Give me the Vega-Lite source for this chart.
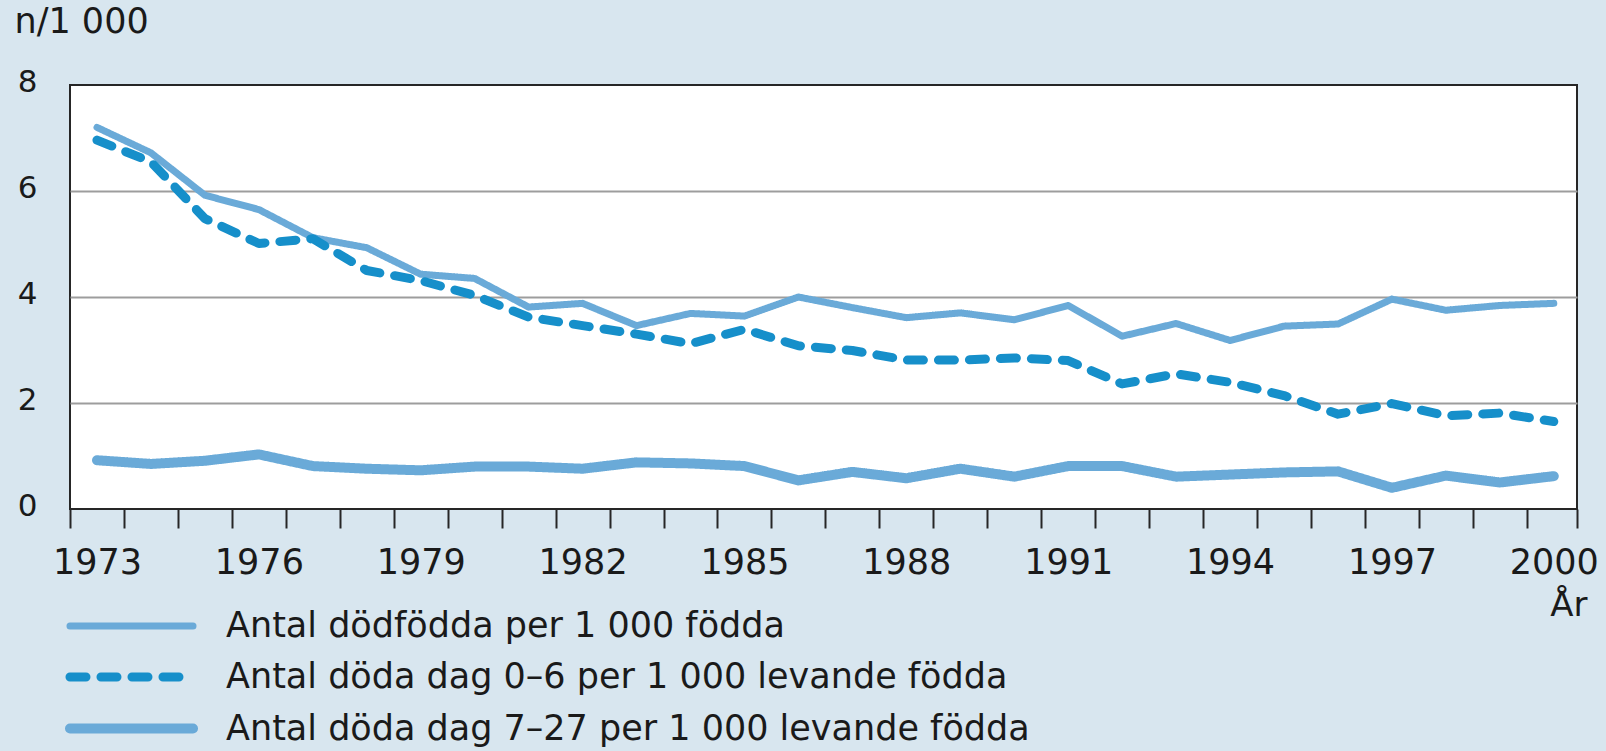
{
  "$schema": "https://vega.github.io/schema/vega-lite/v6.json",
  "width": 1507,
  "height": 424,
  "autosize": {"type": "none"},
  "padding": {"left": 70, "top": 85, "right": 29, "bottom": 242},
  "background": "#d8e6ef",
  "config": {
    "font": "DejaVu Sans",
    "view": {"fill": "white", "stroke": "#262626", "strokeWidth": 2}
  },
  "data": {
    "values": [
      {"year": 1973, "series": "Antal dödfödda per 1 000 födda", "value": 7.2},
      {"year": 1974, "series": "Antal dödfödda per 1 000 födda", "value": 6.72},
      {"year": 1975, "series": "Antal dödfödda per 1 000 födda", "value": 5.92},
      {"year": 1976, "series": "Antal dödfödda per 1 000 födda", "value": 5.65},
      {"year": 1977, "series": "Antal dödfödda per 1 000 födda", "value": 5.12},
      {"year": 1978, "series": "Antal dödfödda per 1 000 födda", "value": 4.93},
      {"year": 1979, "series": "Antal dödfödda per 1 000 födda", "value": 4.43},
      {"year": 1980, "series": "Antal dödfödda per 1 000 födda", "value": 4.35},
      {"year": 1981, "series": "Antal dödfödda per 1 000 födda", "value": 3.81},
      {"year": 1982, "series": "Antal dödfödda per 1 000 födda", "value": 3.88},
      {"year": 1983, "series": "Antal dödfödda per 1 000 födda", "value": 3.46},
      {"year": 1984, "series": "Antal dödfödda per 1 000 födda", "value": 3.69},
      {"year": 1985, "series": "Antal dödfödda per 1 000 födda", "value": 3.64},
      {"year": 1986, "series": "Antal dödfödda per 1 000 födda", "value": 4.0},
      {"year": 1987, "series": "Antal dödfödda per 1 000 födda", "value": 3.8},
      {"year": 1988, "series": "Antal dödfödda per 1 000 födda", "value": 3.61},
      {"year": 1989, "series": "Antal dödfödda per 1 000 födda", "value": 3.7},
      {"year": 1990, "series": "Antal dödfödda per 1 000 födda", "value": 3.57},
      {"year": 1991, "series": "Antal dödfödda per 1 000 födda", "value": 3.84},
      {"year": 1992, "series": "Antal dödfödda per 1 000 födda", "value": 3.26},
      {"year": 1993, "series": "Antal dödfödda per 1 000 födda", "value": 3.5},
      {"year": 1994, "series": "Antal dödfödda per 1 000 födda", "value": 3.18},
      {"year": 1995, "series": "Antal dödfödda per 1 000 födda", "value": 3.45},
      {"year": 1996, "series": "Antal dödfödda per 1 000 födda", "value": 3.49},
      {"year": 1997, "series": "Antal dödfödda per 1 000 födda", "value": 3.96},
      {"year": 1998, "series": "Antal dödfödda per 1 000 födda", "value": 3.75},
      {"year": 1999, "series": "Antal dödfödda per 1 000 födda", "value": 3.84},
      {"year": 2000, "series": "Antal dödfödda per 1 000 födda", "value": 3.88},
      {"year": 1973, "series": "Antal döda dag 0–6 per 1 000 levande födda", "value": 6.96},
      {"year": 1974, "series": "Antal döda dag 0–6 per 1 000 levande födda", "value": 6.55},
      {"year": 1975, "series": "Antal döda dag 0–6 per 1 000 levande födda", "value": 5.48},
      {"year": 1976, "series": "Antal döda dag 0–6 per 1 000 levande födda", "value": 5.01},
      {"year": 1977, "series": "Antal döda dag 0–6 per 1 000 levande födda", "value": 5.1},
      {"year": 1978, "series": "Antal döda dag 0–6 per 1 000 levande födda", "value": 4.5},
      {"year": 1979, "series": "Antal döda dag 0–6 per 1 000 levande födda", "value": 4.31},
      {"year": 1980, "series": "Antal döda dag 0–6 per 1 000 levande födda", "value": 4.03},
      {"year": 1981, "series": "Antal döda dag 0–6 per 1 000 levande födda", "value": 3.62},
      {"year": 1982, "series": "Antal döda dag 0–6 per 1 000 levande födda", "value": 3.46},
      {"year": 1983, "series": "Antal döda dag 0–6 per 1 000 levande födda", "value": 3.3},
      {"year": 1984, "series": "Antal döda dag 0–6 per 1 000 levande födda", "value": 3.12},
      {"year": 1985, "series": "Antal döda dag 0–6 per 1 000 levande födda", "value": 3.39},
      {"year": 1986, "series": "Antal döda dag 0–6 per 1 000 levande födda", "value": 3.08},
      {"year": 1987, "series": "Antal döda dag 0–6 per 1 000 levande födda", "value": 2.99},
      {"year": 1988, "series": "Antal döda dag 0–6 per 1 000 levande födda", "value": 2.81},
      {"year": 1989, "series": "Antal döda dag 0–6 per 1 000 levande födda", "value": 2.81},
      {"year": 1990, "series": "Antal döda dag 0–6 per 1 000 levande födda", "value": 2.85},
      {"year": 1991, "series": "Antal döda dag 0–6 per 1 000 levande födda", "value": 2.8},
      {"year": 1992, "series": "Antal döda dag 0–6 per 1 000 levande födda", "value": 2.36},
      {"year": 1993, "series": "Antal döda dag 0–6 per 1 000 levande födda", "value": 2.55},
      {"year": 1994, "series": "Antal döda dag 0–6 per 1 000 levande födda", "value": 2.39},
      {"year": 1995, "series": "Antal döda dag 0–6 per 1 000 levande födda", "value": 2.14},
      {"year": 1996, "series": "Antal döda dag 0–6 per 1 000 levande födda", "value": 1.79},
      {"year": 1997, "series": "Antal döda dag 0–6 per 1 000 levande födda", "value": 1.99},
      {"year": 1998, "series": "Antal döda dag 0–6 per 1 000 levande födda", "value": 1.76},
      {"year": 1999, "series": "Antal döda dag 0–6 per 1 000 levande födda", "value": 1.81},
      {"year": 2000, "series": "Antal döda dag 0–6 per 1 000 levande födda", "value": 1.65},
      {"year": 1973, "series": "Antal döda dag 7–27 per 1 000 levande födda", "value": 0.92},
      {"year": 1974, "series": "Antal döda dag 7–27 per 1 000 levande födda", "value": 0.85},
      {"year": 1975, "series": "Antal döda dag 7–27 per 1 000 levande födda", "value": 0.91},
      {"year": 1976, "series": "Antal döda dag 7–27 per 1 000 levande födda", "value": 1.03},
      {"year": 1977, "series": "Antal döda dag 7–27 per 1 000 levande födda", "value": 0.81},
      {"year": 1978, "series": "Antal döda dag 7–27 per 1 000 levande födda", "value": 0.76},
      {"year": 1979, "series": "Antal döda dag 7–27 per 1 000 levande födda", "value": 0.73},
      {"year": 1980, "series": "Antal döda dag 7–27 per 1 000 levande födda", "value": 0.8},
      {"year": 1981, "series": "Antal döda dag 7–27 per 1 000 levande födda", "value": 0.8},
      {"year": 1982, "series": "Antal döda dag 7–27 per 1 000 levande födda", "value": 0.76},
      {"year": 1983, "series": "Antal döda dag 7–27 per 1 000 levande födda", "value": 0.88},
      {"year": 1984, "series": "Antal döda dag 7–27 per 1 000 levande födda", "value": 0.86},
      {"year": 1985, "series": "Antal döda dag 7–27 per 1 000 levande födda", "value": 0.81},
      {"year": 1986, "series": "Antal döda dag 7–27 per 1 000 levande födda", "value": 0.54},
      {"year": 1987, "series": "Antal döda dag 7–27 per 1 000 levande födda", "value": 0.7},
      {"year": 1988, "series": "Antal döda dag 7–27 per 1 000 levande födda", "value": 0.58},
      {"year": 1989, "series": "Antal döda dag 7–27 per 1 000 levande födda", "value": 0.76},
      {"year": 1990, "series": "Antal döda dag 7–27 per 1 000 levande födda", "value": 0.61},
      {"year": 1991, "series": "Antal döda dag 7–27 per 1 000 levande födda", "value": 0.81},
      {"year": 1992, "series": "Antal döda dag 7–27 per 1 000 levande födda", "value": 0.81},
      {"year": 1993, "series": "Antal döda dag 7–27 per 1 000 levande födda", "value": 0.61},
      {"year": 1994, "series": "Antal döda dag 7–27 per 1 000 levande födda", "value": 0.65},
      {"year": 1995, "series": "Antal döda dag 7–27 per 1 000 levande födda", "value": 0.69},
      {"year": 1996, "series": "Antal döda dag 7–27 per 1 000 levande födda", "value": 0.71},
      {"year": 1997, "series": "Antal döda dag 7–27 per 1 000 levande födda", "value": 0.4},
      {"year": 1998, "series": "Antal döda dag 7–27 per 1 000 levande födda", "value": 0.63},
      {"year": 1999, "series": "Antal döda dag 7–27 per 1 000 levande födda", "value": 0.5},
      {"year": 2000, "series": "Antal döda dag 7–27 per 1 000 levande födda", "value": 0.62}
    ]
  },
  "mark": {"type": "line", "strokeCap": "round", "strokeJoin": "round"},
  "encoding": {
    "x": {
      "field": "year",
      "type": "quantitative",
      "scale": {"domain": [1972.5, 2000.43], "nice": false, "zero": false},
      "axis": {
        "values": [1972.5, 1973.5, 1974.5, 1975.5, 1976.5, 1977.5, 1978.5, 1979.5, 1980.5, 1981.5, 1982.5, 1983.5, 1984.5, 1985.5, 1986.5, 1987.5, 1988.5, 1989.5, 1990.5, 1991.5, 1992.5, 1993.5, 1994.5, 1995.5, 1996.5, 1997.5, 1998.5, 1999.5, 2000.43],
        "labelExpr": "(abs(datum.value - floor(datum.value) - 0.5) < 0.01 && (datum.value + 0.5 - 1973) % 3 == 0) ? format(datum.value + 0.5, 'd') : ''",
        "labelOffset": 27,
        "labelFlush": false,
        "labelOverlap": false,
        "labelBound": false,
        "labelFontSize": 35,
        "labelColor": "#1a1a1a",
        "labelPadding": 17,
        "grid": false,
        "domain": false,
        "tickSize": 19,
        "tickWidth": 2,
        "tickColor": "#262626",
        "title": "År",
        "titleFontSize": 34,
        "titleFontWeight": "normal",
        "titleColor": "#1a1a1a",
        "titleAlign": "right",
        "titleAnchor": null,
        "titleBaseline": "alphabetic",
        "titleX": 1517,
        "titleY": 106
      }
    },
    "y": {
      "field": "value",
      "type": "quantitative",
      "scale": {"domain": [0, 8], "nice": false},
      "axis": {
        "values": [0, 2, 4, 6, 8],
        "grid": true,
        "gridColor": "#9d9d9d",
        "gridWidth": 2,
        "gridOpacity": {"condition": {"test": "datum.value === 0 || datum.value === 8", "value": 0}, "value": 1},
        "ticks": false,
        "domain": false,
        "labelPadding": 33,
        "labelOffset": -3,
        "labelFontSize": 31,
        "labelColor": "#1a1a1a",
        "title": "n/1 000",
        "titleAngle": 0,
        "titleAlign": "left",
        "titleBaseline": "alphabetic",
        "titleX": -56,
        "titleY": -53,
        "titleFontSize": 35,
        "titleFontWeight": "normal",
        "titleColor": "#1a1a1a"
      }
    },
    "color": {
      "field": "series",
      "type": "nominal",
      "scale": {
        "domain": ["Antal dödfödda per 1 000 födda", "Antal döda dag 0–6 per 1 000 levande födda", "Antal döda dag 7–27 per 1 000 levande födda"],
        "range": ["#6aaad8", "#168fca", "#6aaad8"]
      },
      "legend": {
        "orient": "none",
        "legendX": 41,
        "legendY": 522,
        "title": null,
        "padding": 0,
        "direction": "vertical",
        "symbolType": "M-4,0H4",
        "symbolSize": 946,
        "labelFontSize": 35,
        "labelColor": "#1a1a1a",
        "labelOffset": 74,
        "labelLimit": 1000,
        "rowPadding": 13,
        "encode": {
          "symbols": {
            "update": {
              "strokeCap": {"value": "round"}
            }
          }
        }
      }
    },
    "strokeDash": {
      "field": "series",
      "type": "nominal",
      "scale": {
        "domain": ["Antal dödfödda per 1 000 födda", "Antal döda dag 0–6 per 1 000 levande födda", "Antal döda dag 7–27 per 1 000 levande födda"],
        "range": [[1, 0], [16, 15], [1, 0]]
      }
    },
    "strokeWidth": {
      "field": "series",
      "type": "nominal",
      "scale": {
        "type": "ordinal",
        "domain": ["Antal dödfödda per 1 000 födda", "Antal döda dag 0–6 per 1 000 levande födda", "Antal döda dag 7–27 per 1 000 levande födda"],
        "range": [7, 9, 10]
      }
    }
  }
}
